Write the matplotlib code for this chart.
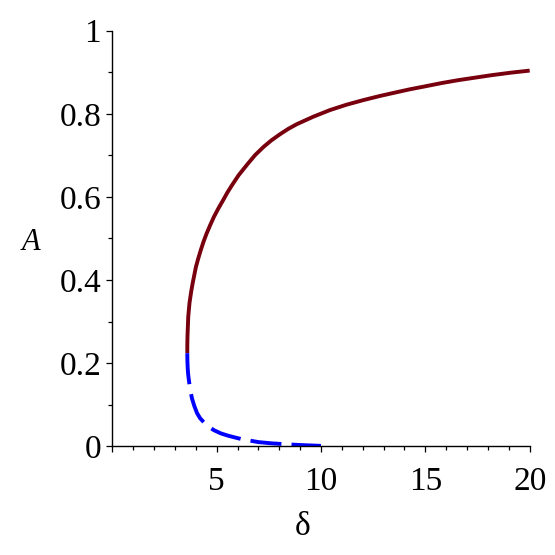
import matplotlib
matplotlib.use("Agg")
import matplotlib.pyplot as plt
from matplotlib.ticker import FixedLocator, MultipleLocator

# stable branch (solid)
delta_upper = [3.594, 3.596, 3.603, 3.64, 3.70, 3.78, 3.85, 3.93, 4.01, 4.12,
               4.24, 4.37, 4.52, 4.69, 4.87, 5.08, 5.32, 5.52, 5.72, 6.05,
               6.48, 6.85, 7.24, 7.62, 8.04, 8.44, 8.84, 9.63, 10.43, 11.23,
               12.03, 12.83, 13.63, 14.26, 14.98, 15.78, 16.58, 17.38, 18.18,
               19.10, 20.0]
A_upper = [0.224, 0.245, 0.264, 0.312, 0.345, 0.372, 0.392, 0.412, 0.432, 0.452,
           0.472, 0.492, 0.512, 0.532, 0.552, 0.572, 0.593, 0.611, 0.627, 0.652,
           0.679, 0.701, 0.720, 0.736, 0.751, 0.764, 0.775, 0.793, 0.809, 0.822,
           0.833, 0.843, 0.852, 0.859, 0.866, 0.874, 0.881, 0.887, 0.893,
           0.899, 0.904]

# unstable branch (dashed)
delta_lower = [3.594, 3.600, 3.612, 3.630, 3.660, 3.69, 3.75, 3.82, 3.93, 4.06,
               4.20, 4.38, 4.60, 4.86, 5.20, 5.58, 6.21, 7.01, 7.65, 8.30,
               8.99, 9.50, 10.0]
A_lower = [0.224, 0.205, 0.190, 0.176, 0.163, 0.152, 0.132, 0.115, 0.097, 0.080,
           0.068, 0.058, 0.048, 0.039, 0.031, 0.025, 0.017, 0.010, 0.007, 0.005,
           0.003, 0.002, 0.001]

x_ticks = [0, 5, 10, 15, 20]
x_labels = ["", "5", "10", "15", "20"]
y_ticks = [0, 0.2, 0.4, 0.6, 0.8, 1.0]
y_labels = ["0", "0.2", "0.4", "0.6", "0.8", "1"]

plt.rcParams['font.family'] = ['Liberation Serif', 'DejaVu Serif']

fig = plt.figure(figsize=(5.55, 5.55), dpi=100)
ax = fig.add_axes([0.2023, 0.1959, 0.7521, 0.7488])

ax.plot(delta_upper, A_upper, color='#78000E', linewidth=2.8,
        solid_capstyle='butt', solid_joinstyle='round')
ax.plot(delta_lower, A_lower, color='#0000FF', linewidth=2.8,
        dashes=(8.0, 2.6), dash_capstyle='butt', dash_joinstyle='round')

ax.set_xlim(0, 20)
ax.set_ylim(0, 1)
for side in ('top', 'right'):
    ax.spines[side].set_visible(False)
for side in ('left', 'bottom'):
    ax.spines[side].set_linewidth(1.0)

ax.xaxis.set_major_locator(FixedLocator(x_ticks))
ax.set_xticklabels(x_labels)
ax.xaxis.set_minor_locator(MultipleLocator(1))
ax.yaxis.set_major_locator(FixedLocator(y_ticks))
ax.set_yticklabels(y_labels)
ax.yaxis.set_minor_locator(MultipleLocator(0.1))

ax.tick_params(which='major', direction='out', length=4.5, width=0.9, labelsize=24)
ax.tick_params(which='minor', direction='out', length=3, width=0.9)
ax.tick_params(axis='x', which='major', pad=10)
ax.tick_params(axis='y', which='major', pad=3.5)

fig.text(303 / 555, 1 - 527 / 555, "δ", fontsize=24, ha='center', va='center')
fig.text(31 / 555, 1 - 243 / 555, "A", fontsize=22, style='italic', ha='center', va='center')

fig.savefig("out.png", dpi=100)
